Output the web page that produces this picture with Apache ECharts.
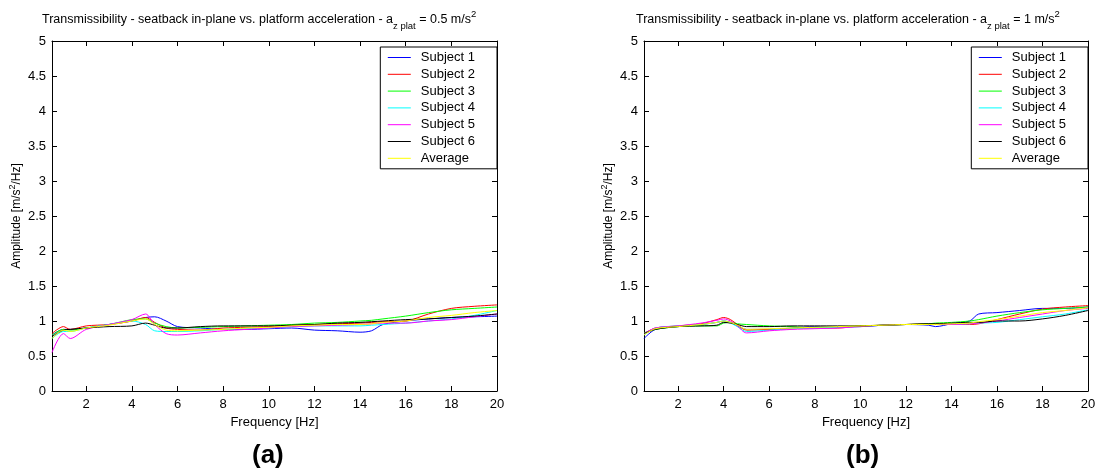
<!DOCTYPE html>
<html>
<head>
<meta charset="utf-8">
<script src="https://cdn.jsdelivr.net/npm/echarts@6/dist/echarts.min.js"></script>
<style>html,body{margin:0;padding:0;background:#fff}#c{width:1099px;height:472px}</style>
</head>
<body>
<div id="c"></div>
<script>
const seriesNames = ['Subject 1','Subject 2','Subject 3','Subject 4','Subject 5','Subject 6','Average'];
const seriesColors = ['#0000ff','#ff0000','#00ff00','#00ffff','#ff00ff','#000000','#ffff00'];
const xTicks = [2,4,6,8,10,12,14,16,18,20];

// Panel (a): a_z plat = 0.5 m/s^2
const freqA = [0.5, 1, 1.3, 2, 3, 4, 4.6, 5, 5.5, 6, 7, 8, 9, 10, 11, 12, 13, 14, 14.5, 15, 16, 17, 18, 19, 20];
const s1A = [0.80, 0.88, 0.88, 0.90, 0.95, 1.00, 1.05, 1.06, 1.00, 0.92, 0.90, 0.88, 0.88, 0.89, 0.90, 0.87, 0.86, 0.84, 0.86, 0.95, 1.00, 1.03, 1.05, 1.06, 1.07];
const s2A = [0.82, 0.92, 0.88, 0.93, 0.95, 1.00, 1.05, 0.98, 0.90, 0.88, 0.87, 0.90, 0.91, 0.92, 0.94, 0.95, 0.96, 0.97, 0.98, 0.99, 1.00, 1.10, 1.18, 1.21, 1.23];
const s3A = [0.80, 0.88, 0.87, 0.90, 0.95, 1.02, 1.03, 0.97, 0.92, 0.90, 0.91, 0.92, 0.93, 0.94, 0.95, 0.97, 0.98, 1.00, 1.01, 1.03, 1.07, 1.12, 1.16, 1.18, 1.20];
const s4A = [0.75, 0.85, 0.85, 0.90, 0.95, 1.00, 0.95, 0.86, 0.85, 0.85, 0.86, 0.88, 0.89, 0.90, 0.92, 0.93, 0.93, 0.93, 0.94, 0.95, 0.97, 1.00, 1.03, 1.08, 1.15];
const s5A = [0.55, 0.82, 0.75, 0.88, 0.95, 1.02, 1.10, 0.95, 0.82, 0.80, 0.83, 0.86, 0.88, 0.90, 0.92, 0.93, 0.94, 0.95, 0.96, 0.97, 0.97, 1.00, 1.02, 1.06, 1.10];
const s6A = [0.78, 0.87, 0.88, 0.90, 0.92, 0.93, 0.97, 0.94, 0.90, 0.90, 0.92, 0.93, 0.93, 0.93, 0.94, 0.95, 0.97, 0.98, 0.99, 1.00, 1.02, 1.03, 1.05, 1.07, 1.10];
const avgA = [0.75, 0.87, 0.85, 0.90, 0.94, 1.00, 1.03, 0.95, 0.87, 0.86, 0.87, 0.88, 0.90, 0.91, 0.93, 0.94, 0.95, 0.95, 0.96, 0.98, 1.00, 1.05, 1.08, 1.12, 1.15];

// Panel (b): a_z plat = 1 m/s^2
const freqB = [0.5, 1, 2, 3, 3.7, 4, 4.3, 4.6, 5, 6, 7, 8, 9, 10, 11, 12, 13, 13.3, 14, 14.8, 15.2, 16, 17, 18, 19, 20];
const s1B = [0.75, 0.88, 0.92, 0.95, 0.98, 1.00, 0.98, 0.93, 0.88, 0.88, 0.90, 0.92, 0.92, 0.92, 0.94, 0.95, 0.94, 0.92, 0.96, 1.00, 1.10, 1.12, 1.15, 1.18, 1.18, 1.20];
const s2B = [0.82, 0.90, 0.93, 0.96, 1.02, 1.05, 1.02, 0.95, 0.87, 0.88, 0.89, 0.90, 0.90, 0.93, 0.94, 0.95, 0.96, 0.96, 0.95, 0.95, 0.96, 1.02, 1.10, 1.17, 1.20, 1.22];
const s3B = [0.83, 0.88, 0.92, 0.93, 0.93, 0.97, 0.98, 0.96, 0.95, 0.93, 0.92, 0.90, 0.91, 0.93, 0.94, 0.95, 0.96, 0.97, 0.98, 1.00, 1.02, 1.07, 1.12, 1.16, 1.18, 1.20];
const s4B = [0.80, 0.90, 0.93, 0.95, 0.98, 1.00, 0.97, 0.92, 0.85, 0.87, 0.89, 0.90, 0.91, 0.92, 0.94, 0.95, 0.95, 0.95, 0.95, 0.96, 0.97, 0.98, 1.02, 1.06, 1.10, 1.16];
const s5B = [0.82, 0.90, 0.93, 0.97, 1.01, 1.03, 1.00, 0.93, 0.83, 0.86, 0.88, 0.89, 0.90, 0.92, 0.94, 0.95, 0.95, 0.95, 0.95, 0.96, 0.97, 1.00, 1.05, 1.10, 1.15, 1.18];
const s6B = [0.82, 0.88, 0.92, 0.93, 0.94, 0.98, 0.97, 0.95, 0.92, 0.92, 0.93, 0.93, 0.93, 0.93, 0.94, 0.95, 0.96, 0.96, 0.97, 0.98, 0.98, 1.00, 1.00, 1.03, 1.08, 1.15];
const avgB = [0.80, 0.89, 0.92, 0.95, 0.98, 1.00, 0.98, 0.94, 0.88, 0.89, 0.90, 0.91, 0.92, 0.93, 0.94, 0.95, 0.95, 0.95, 0.96, 0.97, 0.99, 1.02, 1.07, 1.12, 1.15, 1.19];

const FONT = '"Liberation Sans", Arial, sans-serif';
const valsA = [s1A, s2A, s3A, s4A, s5A, s6A, avgA];
const valsB = [s1B, s2B, s3B, s4B, s5B, s6B, avgB];

function mkSeries(freq, vals, idx) {
  return vals.map((v, i) => ({
    type: 'line', name: seriesNames[i], xAxisIndex: idx * 2, yAxisIndex: idx * 2,
    data: freq.map((f, j) => [f, v[j]]),
    symbol: 'none', smooth: 0.3, color: seriesColors[i],
    lineStyle: { width: 1, color: seriesColors[i] }, animation: false
  }));
}

const black = { color: '#000', width: 1 };
function xAxes(g) {
  return [
    { type: 'value', gridIndex: g, min: 0.5, max: 20, position: 'bottom',
      axisLine: { onZero: false, lineStyle: black },
      axisTick: { inside: true, length: 5, customValues: xTicks, lineStyle: black },
      axisLabel: { customValues: xTicks, color: '#000', fontSize: 13, fontFamily: FONT, margin: 7 },
      splitLine: { show: false },
      name: 'Frequency [Hz]', nameLocation: 'middle', nameGap: 24,
      nameTextStyle: { color: '#000', fontSize: 13, fontFamily: FONT } },
    { type: 'value', gridIndex: g, min: 0.5, max: 20, position: 'top',
      axisLine: { onZero: false, lineStyle: black },
      axisTick: { inside: true, length: 5, customValues: xTicks, lineStyle: black },
      axisLabel: { show: false }, splitLine: { show: false } }
  ];
}
function yAxes(g) {
  return [
    { type: 'value', gridIndex: g, min: 0, max: 5, interval: 0.5, position: 'left',
      axisLine: { onZero: false, lineStyle: black },
      axisTick: { inside: true, length: 5, lineStyle: black },
      axisLabel: { color: '#000', fontSize: 13, fontFamily: FONT, margin: 6 },
      splitLine: { show: false },
      name: '{a|Amplitude [m/s}{s|2}{a|/Hz]}', nameLocation: 'middle', nameGap: 26,
      nameTextStyle: { color: '#000', fontFamily: FONT, rich: {
        a: { fontSize: 12, fontFamily: FONT, color: '#000', lineHeight: 18, verticalAlign: 'middle' },
        s: { fontSize: 9, fontFamily: FONT, color: '#000', verticalAlign: 'top', lineHeight: 18 } } } },
    { type: 'value', gridIndex: g, min: 0, max: 5, interval: 0.5, position: 'right',
      axisLine: { onZero: false, lineStyle: black },
      axisTick: { inside: true, length: 5, lineStyle: black },
      axisLabel: { show: false }, splitLine: { show: false } }
  ];
}

const titleRich = {
  a: { fontSize: 12.5, fontWeight: 'normal', fontFamily: FONT, color: '#000', lineHeight: 22, verticalAlign: 'middle' },
  sub: { fontSize: 9.5, fontWeight: 'normal', fontFamily: FONT, color: '#000', lineHeight: 22, verticalAlign: 'bottom' },
  sup: { fontSize: 9.5, fontWeight: 'normal', fontFamily: FONT, color: '#000', lineHeight: 22, verticalAlign: 'top' }
};
function legendCfg(right) {
  return {
    data: seriesNames.map((n, i) => ({ name: n, lineStyle: { color: seriesColors[i], width: 1 } })),
    orient: 'vertical', right: right, top: 47,
    backgroundColor: '#fff', borderColor: '#000', borderWidth: 1, borderRadius: 0,
    padding: [4, 22, 4, 7], itemWidth: 23, itemHeight: 13, itemGap: 3.8,
    itemStyle: { opacity: 0, borderWidth: 0 },
    lineStyle: { width: 1 },
    textStyle: { color: '#000', fontSize: 13, fontFamily: FONT, padding: [0, 0, 0, 5] },
    selectedMode: false
  };
}

const chart = echarts.init(document.getElementById('c'), null, { renderer: 'canvas' });
chart.setOption({
  animation: false,
  backgroundColor: '#fff',
  title: [
    { text: '{a|Transmissibility - seatback in-plane vs. platform acceleration - a}{sub|z plat}{a| = 0.5 m/s}{sup|2}',
      left: 42, top: 9, padding: 0, textStyle: { fontWeight: 'normal', rich: titleRich } },
    { text: '{a|Transmissibility - seatback in-plane vs. platform acceleration - a}{sub|z plat}{a| = 1 m/s}{sup|2}',
      left: 636, top: 9, padding: 0, textStyle: { fontWeight: 'normal', rich: titleRich } }
  ],
  legend: [legendCfg(602), legendCfg(11)],
  grid: [
    { left: 52, right: 602, top: 41, height: 350, containLabel: false },
    { left: 644, right: 11, top: 41, height: 350, containLabel: false }
  ],
  xAxis: [...xAxes(0), ...xAxes(1)],
  yAxis: [...yAxes(0), ...yAxes(1)],
  series: [...mkSeries(freqA, valsA, 0), ...mkSeries(freqB, valsB, 1)],
  graphic: [
    { type: 'text', left: 252, top: 443, style: { text: '(a)', fontSize: 26, fontWeight: 'bold', fontFamily: FONT, fill: '#000' } },
    { type: 'text', left: 846, top: 443, style: { text: '(b)', fontSize: 26, fontWeight: 'bold', fontFamily: FONT, fill: '#000' } }
  ]
});
</script>
</body>
</html>
